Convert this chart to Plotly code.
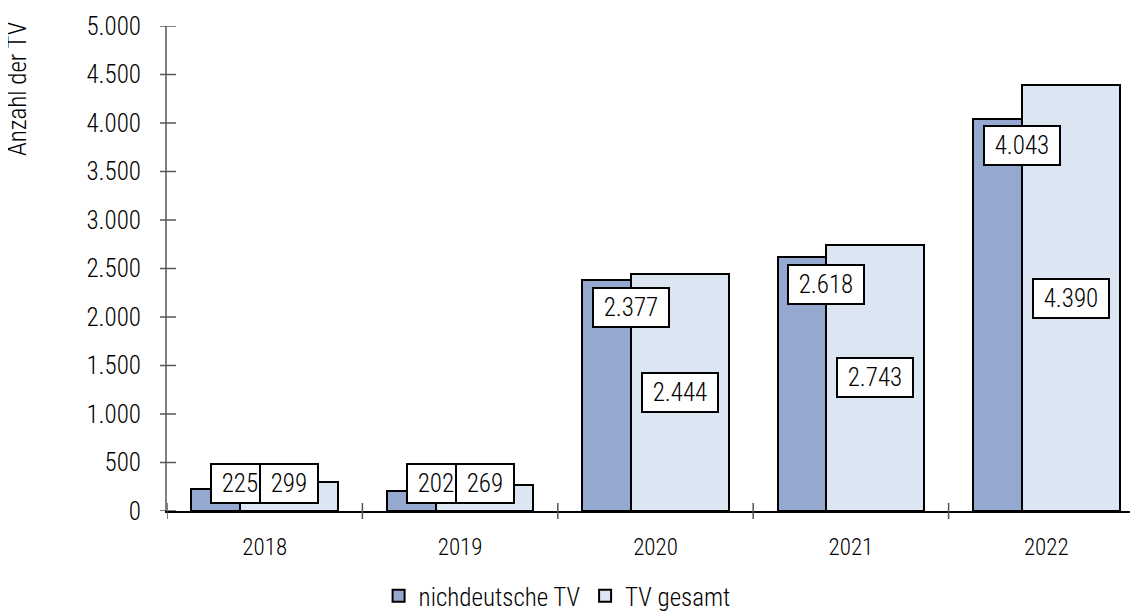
import plotly.graph_objects as go

# data
years = ["2018", "2019", "2020", "2021", "2022"]
nichtdeutsche = [225, 202, 2377, 2618, 4043]
gesamt = [299, 269, 2444, 2743, 4390]
label_nd = ["225", "202", "2.377", "2.618", "4.043"]
label_ges = ["299", "269", "2.444", "2.743", "4.390"]
yticks = [0, 500, 1000, 1500, 2000, 2500, 3000, 3500, 4000, 4500, 5000]
yticktext = ["0", "500", "1.000", "1.500", "2.000", "2.500", "3.000", "3.500", "4.000", "4.500", "5.000"]

FONT = "Roboto Condensed, Liberation Sans, sans-serif"
DARK = "#95A9D0"
LIGHT = "#DCE5F2"
TICKC = "#555555"
XRANGE = [-0.5, 4.5]
YRANGE = [0, 5000]
ML, MR, MT, MB = 159, 2, 18, 108
PLOT_W, PLOT_H = 1138 - ML - MR, 611 - MT - MB

fig = go.Figure()
fig.add_trace(go.Bar(x=years, y=nichtdeutsche, name="nichdeutsche TV", width=0.5, offset=-0.375,
                     marker=dict(color=DARK, line=dict(color="black", width=2)), hoverinfo="skip"))
fig.add_trace(go.Bar(x=years, y=gesamt, name="TV gesamt", width=0.5, offset=-0.125,
                     marker=dict(color=LIGHT, line=dict(color="black", width=2)), hoverinfo="skip"))

# data labels: dark ones just below the bar top, light ones at half height, small bars share a row
units_per_px = YRANGE[1] / PLOT_H
for i, yr in enumerate(years):
    y_nd = max(nichtdeutsche[i] - 27 * units_per_px, 27.5 * units_per_px)
    y_ges = max(gesamt[i] / 2, 27.5 * units_per_px)
    for txt, dx, yy in [(label_nd[i], -0.125, y_nd), (label_ges[i], 0.125, y_ges)]:
        fig.add_annotation(x=i + dx, y=yy, xref="x2", yref="y", text=" " + txt + " ", showarrow=False,
                           font=dict(family=FONT, size=25, color="black", weight=300),
                           bgcolor="white", bordercolor="black", borderwidth=2, borderpad=4)

# tick marks that cross the axes (Excel "cross" style)
for v in yticks:
    fig.add_shape(type="line", xref="paper", yref="y", x0=-7 / PLOT_W, x1=9 / PLOT_W, y0=v, y1=v,
                  line=dict(color=TICKC, width=1.5))
for i in range(len(years) + 1):
    fig.add_shape(type="line", xref="x2", yref="paper", x0=i - 0.5, x1=i - 0.5, y0=-8 / PLOT_H, y1=8 / PLOT_H,
                  line=dict(color=TICKC, width=1.5))

fig.update_layout(
    width=1138, height=611,
    margin=dict(l=ML, r=MR, t=MT, b=MB),
    plot_bgcolor="white", paper_bgcolor="white",
    barmode="overlay", bargap=0,
    font=dict(family=FONT, size=24, color="black", weight=300),
    showlegend=True,
    legend=dict(orientation="h", xref="container", yref="container", x=0.4825, y=0.0, xanchor="center",
                yanchor="bottom", font=dict(size=25, weight=300), traceorder="normal", itemwidth=30),
    xaxis=dict(type="category", range=XRANGE, ticks="", showline=True, linecolor="black", linewidth=2,
               showgrid=False, zeroline=False, tickfont=dict(size=23, weight=300), ticklabelstandoff=14,
               automargin=False),
    yaxis=dict(range=YRANGE, tickvals=yticks, ticktext=yticktext, ticks="", showline=True,
               linecolor="#808080", linewidth=2, showgrid=False, zeroline=False,
               tickfont=dict(size=25, weight=300), ticklabelstandoff=19, automargin=False),
    xaxis2=dict(overlaying="x", range=XRANGE, visible=False),
)

fig.add_annotation(text="Anzahl der TV", textangle=-90, xref="paper", yref="paper",
                   x=-(ML - 9) / PLOT_W, y=1, xanchor="center", yanchor="top", yshift=6,
                   showarrow=False, font=dict(family=FONT, size=25, color="black", weight=300))

fig.write_html("out.html")
